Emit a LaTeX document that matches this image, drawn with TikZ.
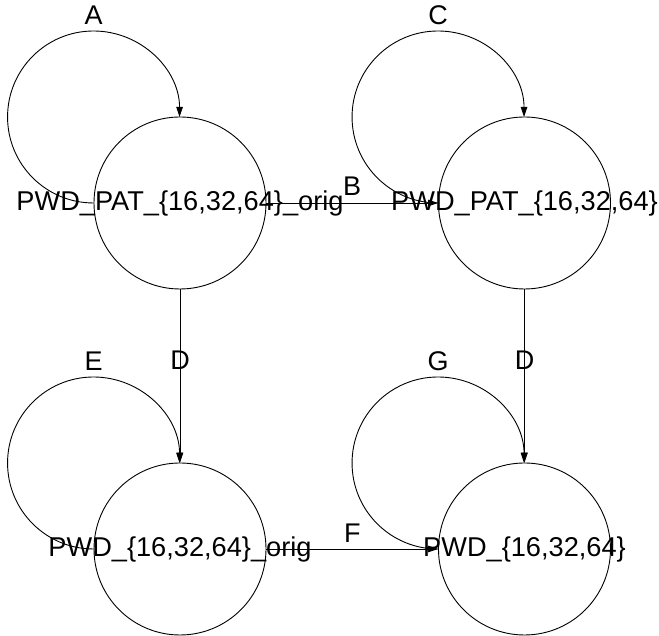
\documentclass[tikz,border=0pt]{standalone}
\usepackage{fontspec}
\setmainfont{Liberation Sans}
\usetikzlibrary{arrows.meta}
\newcommand{\zw}[1]{\makebox[0pt][c]{#1}}
\begin{document}
\begin{tikzpicture}[x=1pt,y=1pt,
  state/.style={circle,draw,line width=0.9pt,minimum size=172pt,inner sep=0pt,
    font=\fontsize{27.2}{30}\selectfont},
  edge/.style={line width=0.9pt,-{Triangle[length=10pt,width=6.5pt]}},
  lbl/.style={inner sep=0pt,font=\fontsize{27}{30}\selectfont}]
\useasboundingbox (0,0) rectangle (659,636);
\node[state] (n1) at (180,433) {\zw{PWD\_PAT\_\{16,32,64\}\_orig}};
\node[state] (n2) at (524.5,433) {\zw{PWD\_PAT\_\{16,32,64\}}};
\node[state] (n3) at (180,87) {\zw{PWD\_\{16,32,64\}\_orig}};
\node[state] (n4) at (524.5,87) {\zw{PWD\_\{16,32,64\}}};
% self loops
\draw[edge] (n1.west) arc[start angle=-90,end angle=-360,radius=86] node[lbl,pos=0.667,above=6pt] (la) {A};
\draw[edge] (n2.west) arc[start angle=-90,end angle=-360,radius=86] node[lbl,pos=0.667,above=6pt] (lc) {C};
\draw[edge] (n3.west) arc[start angle=-90,end angle=-360,radius=86] node[lbl,pos=0.667,above=6pt] (le) {E};
\draw[edge] (n4.west) arc[start angle=-90,end angle=-360,radius=86] node[lbl,pos=0.667,above=6pt] (lg) {G};
% edges
\draw[edge] (n1) -- (n2) node[lbl,midway,above=7pt] (lb) {B};
\draw[edge] (n3) -- (n4) node[lbl,midway,above=6pt] (lf) {F};
\draw[edge] (n1) -- (n3) node[lbl,pos=0.41] (ld1) {D};
\draw[edge] (n2) -- (n4) node[lbl,pos=0.41] (ld2) {D};
\end{tikzpicture}
\end{document}
